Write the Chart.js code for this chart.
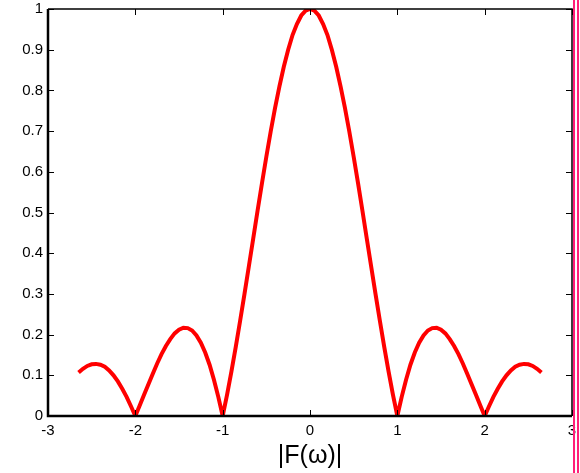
<!DOCTYPE html>
<html>
<head>
<meta charset="utf-8">
<script src="https://cdn.jsdelivr.net/npm/chart.js@4.4.1/dist/chart.umd.min.js"></script>
<style>
    html, body { margin: 0; padding: 0; background: #fff; }
    #wrap { position: relative; width: 580px; height: 473px; }
    .pink { position: absolute; top: 0; width: 2px; height: 473px; background: #ff1f78; }
</style>
</head>
<body>
<div id="wrap">
    <canvas id="sincChart" width="580" height="473"></canvas>
    <div class="pink" style="left:573px"></div>
    <div class="pink" style="left:577px"></div>
</div>
<script>
const omega = [
    -2.65, -2.6, -2.55, -2.5, -2.45, -2.4, -2.35, -2.3, -2.25, -2.2, -2.15, -2.1, -2.05, -2.0,
    -1.95, -1.9, -1.85, -1.8, -1.75, -1.7, -1.65, -1.6, -1.55, -1.5, -1.45, -1.4, -1.35, -1.3,
    -1.25, -1.2, -1.15, -1.1, -1.05, -1.0, -0.95, -0.9, -0.85, -0.8, -0.75, -0.7, -0.65, -0.6,
    -0.55, -0.5, -0.45, -0.4, -0.35, -0.3, -0.25, -0.2, -0.15, -0.1, -0.05, 0,
    0.05, 0.1, 0.15, 0.2, 0.25, 0.3, 0.35, 0.4, 0.45, 0.5, 0.55, 0.6, 0.65, 0.7, 0.75, 0.8,
    0.85, 0.9, 0.95, 1.0, 1.05, 1.1, 1.15, 1.2, 1.25, 1.3, 1.35, 1.4, 1.45, 1.5, 1.55, 1.6,
    1.65, 1.7, 1.75, 1.8, 1.85, 1.9, 1.95, 2.0, 2.05, 2.1, 2.15, 2.2, 2.25, 2.3, 2.35, 2.4,
    2.45, 2.5, 2.55, 2.6, 2.65
];
const magnitude = [
    0.107, 0.116, 0.123, 0.127, 0.128, 0.126, 0.121, 0.112, 0.100, 0.085, 0.067, 0.047, 0.024, 0,
    0.026, 0.052, 0.078, 0.104, 0.129, 0.152, 0.172, 0.189, 0.203, 0.212, 0.217, 0.216, 0.210, 0.198,
    0.180, 0.156, 0.126, 0.089, 0.047, 0, 0.052, 0.109, 0.170, 0.234, 0.300, 0.368, 0.436, 0.505,
    0.572, 0.637, 0.699, 0.757, 0.810, 0.858, 0.900, 0.936, 0.963, 0.984, 0.996, 1,
    0.996, 0.984, 0.963, 0.936, 0.900, 0.858, 0.810, 0.757, 0.699, 0.637, 0.572, 0.505, 0.436, 0.368, 0.300, 0.234,
    0.170, 0.109, 0.052, 0, 0.047, 0.089, 0.126, 0.156, 0.180, 0.198, 0.210, 0.216, 0.217, 0.212, 0.203, 0.189,
    0.172, 0.152, 0.129, 0.104, 0.078, 0.052, 0.026, 0, 0.024, 0.047, 0.067, 0.085, 0.100, 0.112, 0.121, 0.126,
    0.128, 0.127, 0.123, 0.116, 0.107
];
const xTicks = [-3, -2, -1, 0, 1, 2, 3];
const yTicks = [0, 0.1, 0.2, 0.3, 0.4, 0.5, 0.6, 0.7, 0.8, 0.9, 1];

const FONT = 'Liberation Sans, Arial, Helvetica, sans-serif';

// matlab-like box with inward ticks on all four sides
const boxTicks = {
    id: 'boxTicks',
    afterDraw(chart) {
        const ctx = chart.ctx;
        const a = chart.chartArea;
        const xs = chart.scales.x, ys = chart.scales.y;
        const len = 6;
        ctx.save();
        ctx.strokeStyle = '#000';
        ctx.lineWidth = 1;
        ctx.beginPath();
        xTicks.forEach(v => {
            const px = Math.round(xs.getPixelForValue(v)) + 0.5;
            ctx.moveTo(px, a.bottom); ctx.lineTo(px, a.bottom - len);
            ctx.moveTo(px, a.top); ctx.lineTo(px, a.top + len);
        });
        yTicks.forEach(v => {
            const py = Math.round(ys.getPixelForValue(v)) + 0.5;
            ctx.moveTo(a.left, py); ctx.lineTo(a.left + len, py);
            ctx.moveTo(a.right, py); ctx.lineTo(a.right - len, py);
        });
        ctx.stroke();
        ctx.lineWidth = 1.5;
        ctx.beginPath();
        ctx.moveTo(a.left, a.top); ctx.lineTo(a.right, a.top); ctx.lineTo(a.right, a.bottom);
        ctx.stroke();
        ctx.lineWidth = 2.5;
        ctx.beginPath();
        ctx.moveTo(a.left, a.top); ctx.lineTo(a.left, a.bottom); ctx.lineTo(a.right, a.bottom);
        ctx.stroke();
        ctx.restore();
    }
};

new Chart(document.getElementById('sincChart').getContext('2d'), {
    type: 'line',
    data: {
        datasets: [{
            data: omega.map((w, i) => ({ x: w, y: magnitude[i] })),
            borderColor: '#ff0000',
            borderWidth: 4,
            pointRadius: 0,
            tension: 0,
            fill: false
        }]
    },
    options: {
        responsive: false,
        animation: false,
        layout: { padding: { left: 0, right: 8, top: 9, bottom: 0 } },
        plugins: { legend: { display: false }, tooltip: { enabled: false } },
        scales: {
            x: {
                type: 'linear',
                min: -3,
                max: 3,
                afterBuildTicks: s => { s.ticks = xTicks.map(v => ({ value: v })); },
                afterFit: s => { s.height = 57; s.paddingLeft = 0; s.paddingRight = 0; },
                grid: { display: false, drawTicks: false },
                border: { display: false },
                ticks: {
                    padding: 6,
                    color: '#000',
                    font: { family: FONT, size: 15 },
                    maxRotation: 0,
                    callback: v => String(v)
                },
                title: {
                    display: true,
                    text: '|F(ω)|',
                    color: '#000',
                    font: { family: FONT, size: 25 },
                    padding: { top: 0, bottom: 2 }
                }
            },
            y: {
                min: 0,
                max: 1,
                afterBuildTicks: s => { s.ticks = yTicks.map(v => ({ value: v })); },
                afterFit: s => { s.width = 48; s.paddingTop = 0; s.paddingBottom = 0; },
                grid: { display: false, drawTicks: false },
                border: { display: false },
                ticks: {
                    padding: 5,
                    color: '#000',
                    font: { family: FONT, size: 15 },
                    callback: v => String(v)
                }
            }
        }
    },
    plugins: [boxTicks]
});
</script>
</body>
</html>
